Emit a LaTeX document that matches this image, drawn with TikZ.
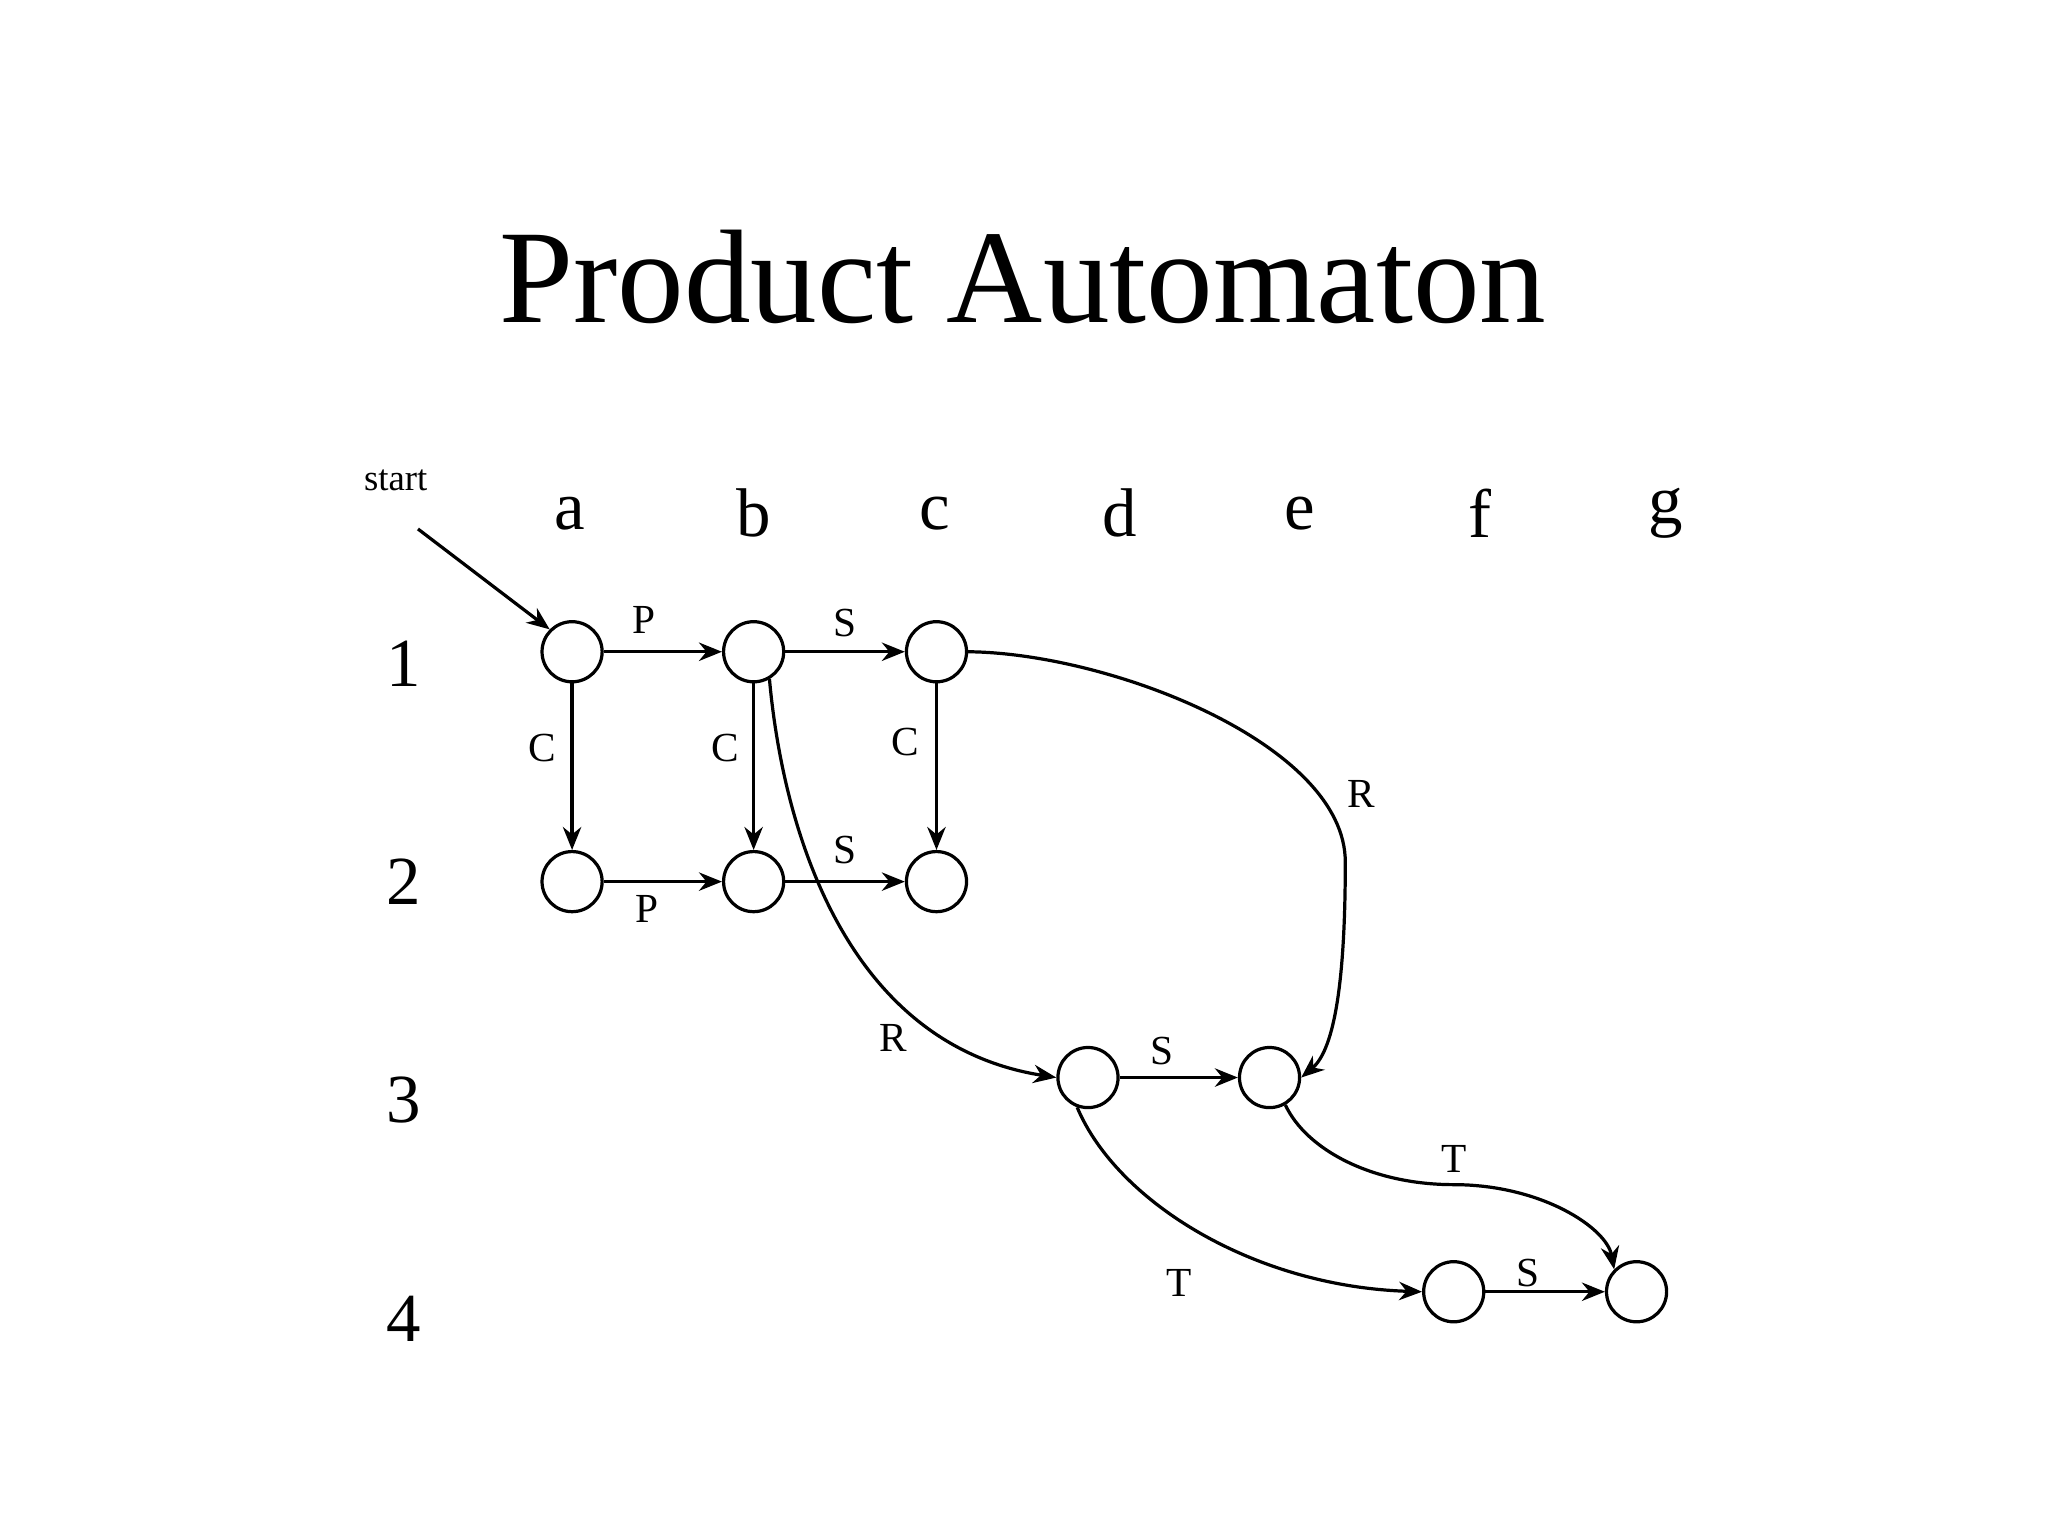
\documentclass[tikz,border=0pt]{standalone}
\usepackage{fontspec}
\setmainfont{Liberation Serif}
\usetikzlibrary{arrows.meta}
\begin{document}
\begin{tikzpicture}[x=0.01cm,y=-0.01cm,
  st/.style={circle,draw,line width=0.7pt,minimum size=0.46cm,inner sep=0pt},
  ed/.style={line width=0.7pt,-{Stealth[length=5pt,width=4pt]}},
  lb/.style={font=\fontsize{9}{10}\selectfont},
  hd/.style={font=\fontsize{15}{17}\selectfont}]
\useasboundingbox (0,0) rectangle (1568,1176);
\node[font=\fontsize{29}{33}\selectfont] (title) at (783,212) {Product Automaton};
\node[font=\fontsize{8}{9}\selectfont] (start) at (303,368) {start};
\foreach \l/\x in {a/436,b/577,c/716,d/857,e/995,f/1133,g/1275}
  \node[hd] (h\l) at (\x,393) {\l};
\foreach \n/\y in {1/508,2/675,3/842,4/1010}
  \node[hd] (r\n) at (309,\y) {\n};
\node[st] (a1) at (438,499) {};
\node[st] (b1) at (577,499) {};
\node[st] (c1) at (717,499) {};
\node[st] (a2) at (438,675) {};
\node[st] (b2) at (577,675) {};
\node[st] (c2) at (717,675) {};
\node[st] (d3) at (833,825) {};
\node[st] (e3) at (972,825) {};
\node[st] (f4) at (1113,989) {};
\node[st] (g4) at (1253,989) {};
\coordinate (s0) at (320,405);
\draw[ed] (s0) -- (a1.135);
\draw[ed] (a1) -- (b1); \node[lb] at (493,475) {P};
\draw[ed] (b1) -- (c1); \node[lb] at (647,477) {S};
\draw[ed] (a1) -- (a2.north) ; \node[lb] at (415,573) {C};
\draw[ed] (b1) -- (b2.north); \node[lb] at (555,573) {C};
\draw[ed] (c1) -- (c2.north); \node[lb] at (693,568) {C};
\draw[ed] (a2) -- (b2); \node[lb] at (495,696) {P};
\draw[ed] (b2) -- (c2); \node[lb] at (647,651) {S};
\draw[ed] (b1.-60) .. controls (600,640) and (650,800) .. (d3.west); \node[lb] at (684,795) {R};
\draw[ed] (c1.east) .. controls (850,500) and (1030,570) .. (1030,660) .. controls (1030,760) and (1020,805) .. (e3.east);
\node[lb] at (1042,608) {R};
\draw[ed] (d3) -- (e3); \node[lb] at (890,805) {S};
\draw[ed] (e3.-60) .. controls (1000,880) and (1050,907) .. (1113,907) .. controls (1180,907) and (1230,940) .. (g4.north west);
\node[lb] at (1113,887) {T};
\draw[ed] (d3.-110) .. controls (855,920) and (960,985) .. (f4.west); \node[lb] at (903,982) {T};
\draw[ed] (f4) -- (g4); \node[lb] at (1170,975) {S};
\end{tikzpicture}
\end{document}
